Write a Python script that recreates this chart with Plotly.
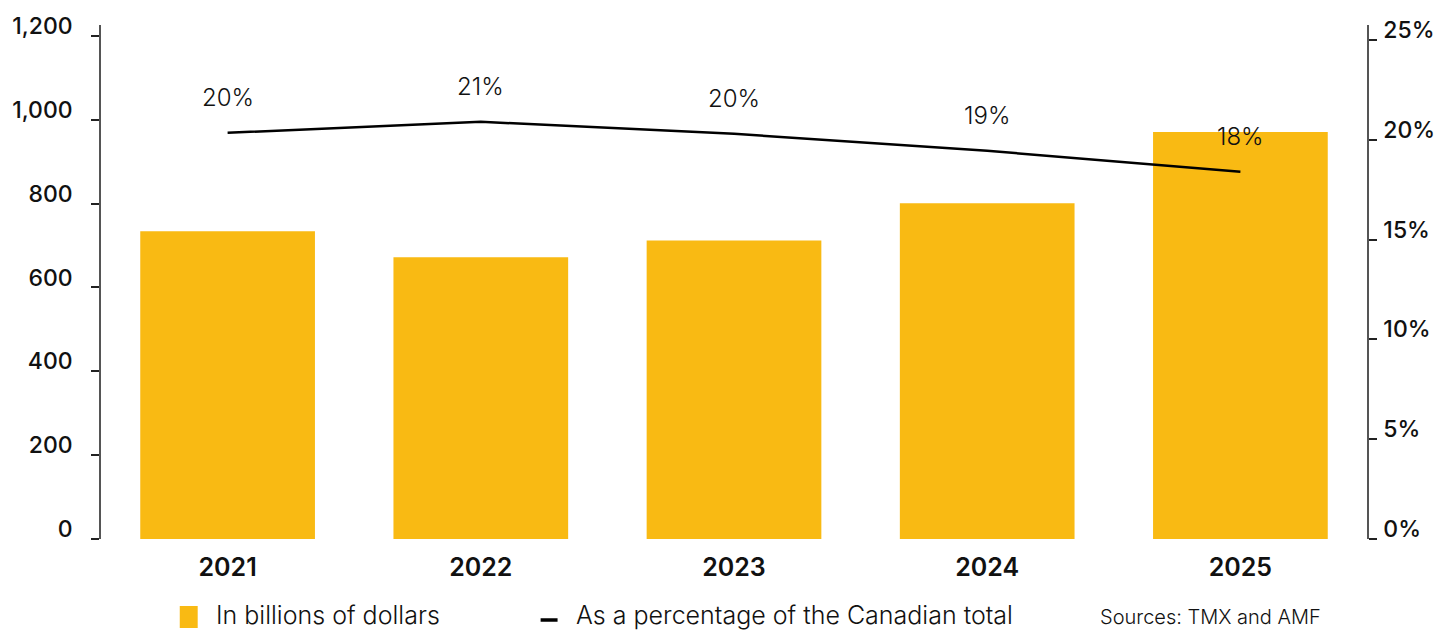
import plotly.graph_objects as go

years = [2021, 2022, 2023, 2024, 2025]
billions = [734, 672, 712, 801, 971]
pct = [20.35, 20.9, 20.3, 19.45, 18.4]
pct_labels = ["20%", "21%", "20%", "19%", "18%"]
legend_labels = ["In billions of dollars", "As a percentage of the Canadian total"]
source_note = "Sources: TMX and AMF"

BAR = "#F9BA13"
FONT = "Inter"
W, H = 1451, 630
L, R, T, B = 97, 84, 25, 91
PW, PH = W - L - R, H - T - B


def px(x):
    return (x - L) / PW


def py(y):
    return (H - B - y) / PH


fig = go.Figure()
fig.add_trace(go.Bar(
    x=years, y=billions, name=legend_labels[0],
    marker=dict(color=BAR, line=dict(width=0)), width=0.69,
    hoverinfo="skip", showlegend=False,
))
fig.add_trace(go.Scatter(
    x=years, y=pct, name=legend_labels[1],
    mode="lines", line=dict(color="black", width=2.5), yaxis="y2",
    hoverinfo="skip", showlegend=False,
))

annotations = []
for yr, v, t in zip(years, pct, pct_labels):
    annotations.append(dict(x=yr, y=v, xref="x", yref="y2", text=t, showarrow=False,
                            yshift=35, font=dict(family=FONT, size=24, color="#111", weight=300)))

# custom legend
shapes = [
    dict(type="rect", xref="paper", yref="paper", x0=px(176), x1=px(194), y0=py(628), y1=py(606),
         fillcolor=BAR, line=dict(width=0)),
    dict(type="line", xref="paper", yref="paper", x0=px(538), x1=px(555), y0=py(620), y1=py(620),
         line=dict(color="black", width=3.5)),
]
annotations.append(dict(x=px(210), y=py(615), xref="paper", yref="paper", text=legend_labels[0],
                        showarrow=False, xanchor="left", yanchor="middle",
                        font=dict(family=FONT, size=25, weight=300, color="#111")))
annotations.append(dict(x=px(571), y=py(615), xref="paper", yref="paper", text=legend_labels[1],
                        showarrow=False, xanchor="left", yanchor="middle",
                        font=dict(family=FONT, size=25, weight=300, color="#111")))
annotations.append(dict(x=px(1323), y=py(617), xref="paper", yref="paper", text=source_note,
                        showarrow=False, xanchor="right", yanchor="middle",
                        font=dict(family=FONT, size=20, weight=300, color="#111")))

fig.update_layout(
    width=W, height=H,
    margin=dict(l=L, r=R, t=T, b=B),
    paper_bgcolor="white", plot_bgcolor="white",
    font=dict(family=FONT, color="#111"),
    showlegend=False,
    annotations=annotations,
    shapes=shapes,
    xaxis=dict(range=[2020.5, 2025.5], tickvals=years, ticktext=[str(y) for y in years],
               showline=False, ticks="", showgrid=False, zeroline=False,
               tickfont=dict(family=FONT, size=25, weight=600, color="#111"),
               ticklabelstandoff=11, fixedrange=True),
    yaxis=dict(range=[0, 1226], tickvals=[0, 200, 400, 600, 800, 1000, 1200],
               ticktext=["0", "200", "400", "600", "800", "1,000", "1,200"],
               showline=True, linecolor="#555", linewidth=1.5,
               ticks="outside", ticklen=8, tickwidth=2, tickcolor="#222",
               showgrid=False, zeroline=False,
               tickfont=dict(family=FONT, size=23, weight=500, color="#111"),
               ticklabelstandoff=14, ticklabelshift=-10, fixedrange=True),
    yaxis2=dict(range=[0, 25.75], overlaying="y", side="right",
                tickvals=[0, 5, 10, 15, 20, 25],
                ticktext=["0%", "5%", "10%", "15%", "20%", "25%"],
                showline=True, linecolor="#555", linewidth=1.5,
                ticks="outside", ticklen=8, tickwidth=2, tickcolor="#222",
                showgrid=False, zeroline=False,
                tickfont=dict(family=FONT, size=23, weight=500, color="#111"),
                ticklabelstandoff=2, ticklabelshift=-10, fixedrange=True),
)

fig.write_html("out.html")
